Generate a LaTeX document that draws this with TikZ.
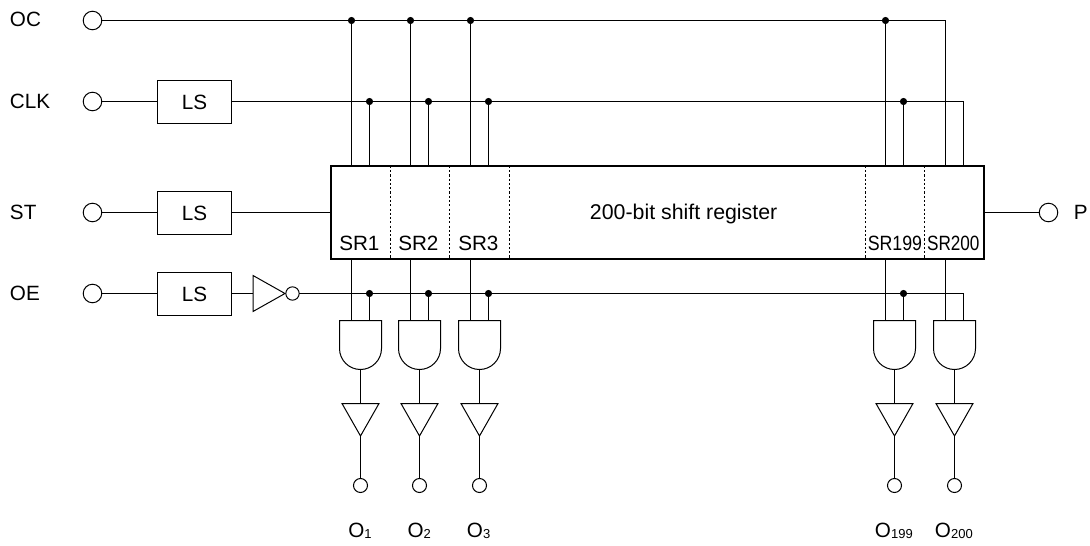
\documentclass[tikz,border=0pt]{standalone}
\usepackage{fontspec}
\setmainfont{Liberation Sans}
\usetikzlibrary{calc}
\tikzset{
  wire/.style={line width=0.75pt},
  pad/.style={draw,circle,wire,fill=white,inner sep=0pt,outer sep=0pt,minimum size=13.9pt},
  opad/.style={pad,minimum size=10.5pt},
  bubble/.style={pad,minimum size=10pt},
  dot/.style={circle,fill=black,inner sep=0pt,outer sep=0pt,minimum size=5.4pt},
  lsbox/.style={draw,wire,inner sep=0pt,outer sep=0pt,minimum width=55.5pt,minimum height=32pt,font=\fontsize{15.5}{18}\selectfont},
  lbl/.style={inner sep=0pt,anchor=base west,font=\fontsize{15.5}{18}\selectfont},
  divider/.style={line width=0.75pt,dash pattern=on 1.6pt off 1.6pt},
  andgate/.pic={
    \coordinate (-a) at (-9,0);
    \coordinate (-b) at (9,0);
    \coordinate (-out) at (0,49);
    \draw[wire,fill=white] (-21,0)--(21,0)--(21,28) arc (0:180:21)--cycle;
  },
  bufgate/.pic={
    \coordinate (-in) at (0,0);
    \coordinate (-out) at (0,32.5);
    \draw[wire,fill=white] (-18.5,0)--(18.5,0)--(0,32.5)--cycle;
  },
  invgate/.pic={
    \coordinate (-in) at (0,0);
    \draw[wire,fill=white] (0,-18)--(32,0)--(0,18)--cycle;
  }
}
\newcommand{\sbs}[1]{{\fontsize{9.75}{12}\selectfont\raisebox{-1pt}{#1}}}
\begin{document}
\begin{tikzpicture}[x=0.75pt,y=-0.75pt]
\useasboundingbox (0,0) rectangle (1090,546);
% input pads and level shifters
\node[lbl] (lOC) at (9.7,26.7) {OC};
\node[lbl] (lCLK) at (9.7,108.3) {CLK};
\node[lbl] (lST) at (9.7,219) {ST};
\node[lbl] (lOE) at (9.7,300.5) {OE};
\node[pad] (pOC) at (92.5,20.5) {};
\node[pad] (pCLK) at (92.5,101.5) {};
\node[pad] (pST) at (92.5,212.5) {};
\node[pad] (pOE) at (92.5,293.5) {};
\node[lsbox] (ls1) at (194.5,102) {LS};
\node[lsbox] (ls2) at (194.5,213) {LS};
\node[lsbox] (ls3) at (194.5,294) {LS};
\pic (inv) at (253,293.5) {invgate};
\node[bubble] (bub) at (292.5,293.5) {};
% shift register
\node[draw,line width=1.4pt,inner sep=0pt,outer sep=0pt,minimum width=490pt,minimum height=70pt] (reg) at (657.5,212.5) {};
\node[lbl,font=\fontsize{16}{18}\selectfont] (regtxt) at (589.7,219) {200-bit shift register};
\coordinate (dv1) at (390.5,212);
\coordinate (dv2) at (449.5,212);
\coordinate (dv3) at (509.5,212);
\coordinate (dv4) at (865.5,212);
\coordinate (dv5) at (924.5,212);
\draw[divider] (dv1|-reg.north)--(dv1|-reg.south);
\draw[divider] (dv2|-reg.north)--(dv2|-reg.south);
\draw[divider] (dv3|-reg.north)--(dv3|-reg.south);
\draw[divider] (dv4|-reg.north)--(dv4|-reg.south);
\draw[divider] (dv5|-reg.north)--(dv5|-reg.south);
\node[lbl] (sr1) at (339,250) {SR1};
\node[lbl] (sr2) at (398,250) {SR2};
\node[lbl] (sr3) at (458,250) {SR3};
\node[lbl] (sr199) at (867.5,250) {\scalebox{0.86}[1]{SR199}};
\node[lbl] (sr200) at (926.8,250) {\scalebox{0.83}[1]{SR200}};
\node[pad] (pP) at (1048.5,212.5) {};
\node[lbl] (lP) at (1073.5,219) {P};
% junctions
\node[dot] (oc1) at (351.5,20.5) {};
\node[dot] (oc2) at (410.5,20.5) {};
\node[dot] (oc3) at (470.5,20.5) {};
\node[dot] (oc4) at (885.5,20.5) {};
\coordinate (oc5) at (945.5,20.5);
\node[dot] (ck1) at (369.5,101.5) {};
\node[dot] (ck2) at (428.5,101.5) {};
\node[dot] (ck3) at (488.5,101.5) {};
\node[dot] (ck4) at (903.5,101.5) {};
\coordinate (ck5) at (963.5,101.5);
\node[dot] (oe1) at (369.5,293.5) {};
\node[dot] (oe2) at (428.5,293.5) {};
\node[dot] (oe3) at (488.5,293.5) {};
\node[dot] (oe4) at (903.5,293.5) {};
\coordinate (oe5) at (963.5,293.5);
% output gates
\pic (and1) at (360.5,320.5) {andgate};
\pic (and2) at (419.5,320.5) {andgate};
\pic (and3) at (479.5,320.5) {andgate};
\pic (and4) at (894.5,320.5) {andgate};
\pic (and5) at (954.5,320.5) {andgate};
\pic (buf1) at (360.5,403.5) {bufgate};
\pic (buf2) at (419.5,403.5) {bufgate};
\pic (buf3) at (479.5,403.5) {bufgate};
\pic (buf4) at (894.5,403.5) {bufgate};
\pic (buf5) at (954.5,403.5) {bufgate};
\node[opad] (o1) at (360.5,485.5) {};
\node[opad] (o2) at (419.5,485.5) {};
\node[opad] (o3) at (479.5,485.5) {};
\node[opad] (o4) at (894.5,485.5) {};
\node[opad] (o5) at (954.5,485.5) {};
\node[lbl] (lO1) at (348,537.3) {O\sbs{1}};
\node[lbl] (lO2) at (407.3,537.3) {O\sbs{2}};
\node[lbl] (lO3) at (466.7,537.3) {O\sbs{3}};
\node[lbl] (lO4) at (874.7,537.3) {O\sbs{199}};
\node[lbl] (lO5) at (934.7,537.3) {O\sbs{200}};
% wiring
\draw[wire] (pOC)--(oc5)--(oc5|-reg.north);
\draw[wire] (pCLK)--(pCLK-|ls1.west);
\draw[wire] (pCLK-|ls1.east)--(ck5)--(ck5|-reg.north);
\draw[wire] (pST)--(pST-|ls2.west);
\draw[wire] (pST-|ls2.east)--(pST-|reg.west);
\draw[wire] (pST-|reg.east)--(pP);
\draw[wire] (pOE)--(pOE-|ls3.west);
\draw[wire] (pOE-|ls3.east)--(inv-in);
\draw[wire] (bub)--(oe5)--(and5-b);
\draw[wire] (oc1)--(oc1|-reg.north);
\draw[wire] (oc2)--(oc2|-reg.north);
\draw[wire] (oc3)--(oc3|-reg.north);
\draw[wire] (oc4)--(oc4|-reg.north);
\draw[wire] (ck1)--(ck1|-reg.north);
\draw[wire] (ck2)--(ck2|-reg.north);
\draw[wire] (ck3)--(ck3|-reg.north);
\draw[wire] (ck4)--(ck4|-reg.north);
\draw[wire] (oe1)--(and1-b);
\draw[wire] (oe2)--(and2-b);
\draw[wire] (oe3)--(and3-b);
\draw[wire] (oe4)--(and4-b);
\draw[wire] (and1-a|-reg.south)--(and1-a);
\draw[wire] (and2-a|-reg.south)--(and2-a);
\draw[wire] (and3-a|-reg.south)--(and3-a);
\draw[wire] (and4-a|-reg.south)--(and4-a);
\draw[wire] (and5-a|-reg.south)--(and5-a);
\draw[wire] (and1-out)--(buf1-in);
\draw[wire] (and2-out)--(buf2-in);
\draw[wire] (and3-out)--(buf3-in);
\draw[wire] (and4-out)--(buf4-in);
\draw[wire] (and5-out)--(buf5-in);
\draw[wire] (buf1-out)--(o1);
\draw[wire] (buf2-out)--(o2);
\draw[wire] (buf3-out)--(o3);
\draw[wire] (buf4-out)--(o4);
\draw[wire] (buf5-out)--(o5);
\end{tikzpicture}
\end{document}
